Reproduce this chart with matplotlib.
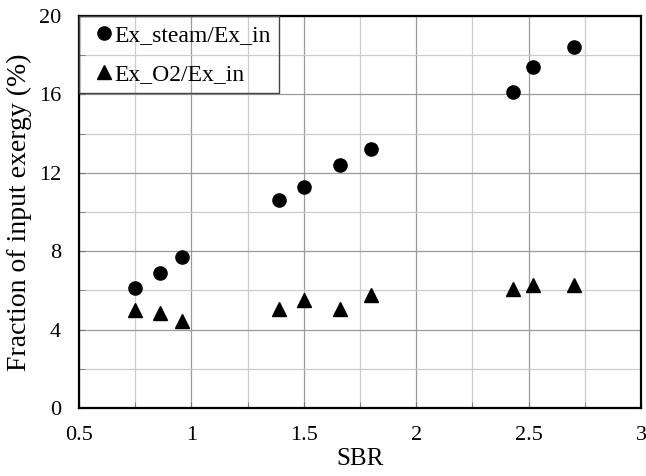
import numpy as np
import matplotlib
matplotlib.use('Agg')
import matplotlib.pyplot as plt
from matplotlib.ticker import MultipleLocator

sbr = [0.75, 0.86, 0.96, 1.39, 1.50, 1.66, 1.80, 2.43, 2.52, 2.70]
ex_steam = [6.1, 6.9, 7.7, 10.6, 11.3, 12.4, 13.2, 16.1, 17.4, 18.4]
ex_o2 = [5.0, 4.85, 4.45, 5.05, 5.5, 5.05, 5.75, 6.05, 6.3, 6.3]
xtick_labels = ['0.5', '1', '1.5', '2', '2.5', '3']

plt.rcParams['font.family'] = ['Liberation Serif', 'DejaVu Serif']

fig = plt.figure(figsize=(6.46, 4.76), dpi=100)
ax = fig.add_axes([0.1223, 0.1429, 0.870, 0.8235])

ax.plot(sbr, ex_steam, 'ko', markersize=9.5, linestyle='none', label='Ex_steam/Ex_in')
ax.plot(sbr, ex_o2, 'k^', markersize=10, linestyle='none', label='Ex_O2/Ex_in')

ax.set_xlim(0.5, 3)
ax.set_ylim(0, 20)
ax.set_xticks([0.5, 1, 1.5, 2, 2.5, 3])
ax.set_xticklabels(xtick_labels)
ax.xaxis.set_minor_locator(MultipleLocator(0.25))
ax.yaxis.set_major_locator(MultipleLocator(4))
ax.yaxis.set_minor_locator(MultipleLocator(2))
ax.grid(which='major', color='#9a9a9a', linewidth=0.9)
ax.grid(which='minor', color='#cccccc', linewidth=0.9)
ax.set_axisbelow(True)
ax.tick_params(which='both', direction='in', length=4, color='#777777', labelsize=16)
ax.tick_params(axis='x', which='both', pad=13)
ax.tick_params(axis='y', which='both', pad=13)
for s in ax.spines.values():
    s.set_linewidth(1.6)
    s.set_color('black')

ax.set_xlabel('SBR', fontsize=18, labelpad=2)
ax.set_ylabel('Fraction of input exergy (%)', fontsize=20, labelpad=5)

leg = ax.legend(loc='upper left', fontsize=17, frameon=True, fancybox=False,
                framealpha=1, facecolor='none', edgecolor='#444444', borderaxespad=0,
                handletextpad=-0.25, handlelength=1.4, labelspacing=0.75,
                borderpad=0.35)
leg.get_frame().set_linewidth(1.0)

plt.savefig('out.png', dpi=100)
